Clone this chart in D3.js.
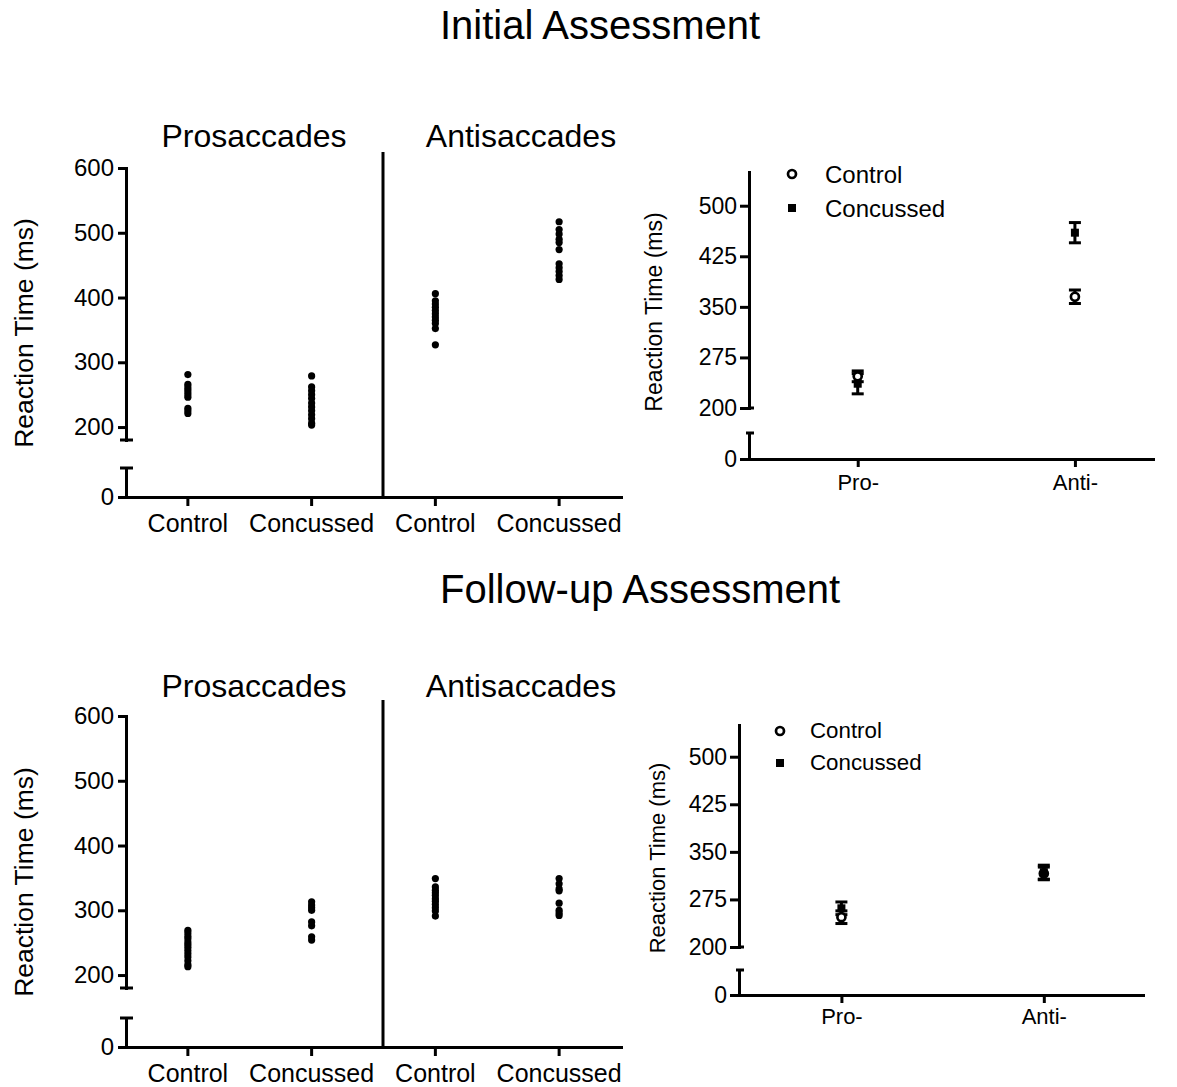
<!DOCTYPE html>
<html><head><meta charset="utf-8">
<script src="https://cdn.jsdelivr.net/npm/d3@7"></script>
<style>
body{margin:0;background:#fff}
svg text{font-family:"Liberation Sans",Arial,Helvetica,sans-serif;fill:#000}
</style>
</head><body>
<svg id="c" width="1177" height="1087"></svg>
<script>
// ---------------- DATA ----------------
const titles = ["Initial Assessment", "Follow-up Assessment"];
const groups = ["Prosaccades", "Antisaccades"];
const categories = ["Control", "Concussed", "Control", "Concussed"];
const scatterTicks = [0, 200, 300, 400, 500, 600];
const summaryTicks = [0, 200, 275, 350, 425, 500];
const summaryCats = ["Pro-", "Anti-"];
const legendLabels = ["Control", "Concussed"];
const yLabel = "Reaction Time (ms)";

// Initial assessment, individual reaction times (ms)
const initProControl    = [281, 266, 262, 258, 254, 250, 246, 229, 225, 221];
const initProConcussed  = [279, 262, 256, 250, 244, 237, 231, 225, 219, 213, 206, 203];
const initAntiControl   = [406, 395, 390, 385, 380, 375, 370, 365, 360, 352, 327];
const initAntiConcussed = [517, 505, 498, 490, 485, 474, 452, 446, 440, 434, 428];

// Follow-up assessment, individual reaction times (ms)
const followProControl    = [269, 265, 260, 256, 251, 247, 243, 238, 233, 228, 222, 216, 213];
const followProConcussed  = [313, 308, 304, 300, 282, 276, 259, 254];
const followAntiControl   = [349, 336, 331, 327, 323, 318, 314, 309, 304, 299, 291];
const followAntiConcussed = [349, 341, 333, 330, 311, 300, 296, 292];

// Summary (mean ± SEM) for Pro-, Anti-
const initControlMean    = [247, 365];
const initControlErr     = [8, 10];
const initConcussedMean  = [236, 460];
const initConcussedErr   = [15, 15];
const followControlMean  = [247, 316];
const followControlErr   = [10, 10];
const followConcussedMean= [261, 318];
const followConcussedErr = [10, 11];

// ---------------- DRAW ----------------
const svg = d3.select("#c");
const SW = 3;

function styleAxis(g){
  g.selectAll("path.domain").attr("stroke","#000").attr("stroke-width",SW).attr("stroke-linecap","square");
  g.selectAll(".tick line").attr("stroke","#000").attr("stroke-width",SW);
  g.selectAll(".tick text").attr("fill","#000").style("font-family",'"Liberation Sans",Arial,sans-serif');
}

function scatterPanel(cfg){
  const {xL, xR, yTop, yBrk, yLowTop, y0, sepX, sepTop, titleY, titleX, labelCY, data} = cfg;
  const yU = d3.scaleLinear().domain([180, 600]).range([yBrk, yTop]);
  const yL = d3.scaleLinear().domain([0, 45]).range([y0, yLowTop]);
  const x = d3.scaleBand().domain(d3.range(categories.length)).range([xL, xR]);

  groups.forEach((t, i) => {
    svg.append("text").attr("x", titleX[i]).attr("y", titleY).attr("text-anchor","middle")
      .style("font-size","32px").text(t);
  });

  const gU = svg.append("g").attr("transform",`translate(${xL},0)`)
    .call(d3.axisLeft(yU).tickValues(scatterTicks.filter(v=>v>0)).tickSize(8).tickSizeOuter(0).tickPadding(4));
  gU.selectAll(".tick text").style("font-size","24px");
  styleAxis(gU);
  const gL = svg.append("g").attr("transform",`translate(${xL},0)`)
    .call(d3.axisLeft(yL).tickValues(scatterTicks.filter(v=>v===0)).tickSize(8).tickSizeOuter(0).tickPadding(4));
  gL.selectAll(".tick text").style("font-size","24px");
  styleAxis(gL);
  [yU(180), yL(45)].forEach(yy => {
    svg.append("line").attr("x1", xL-6).attr("x2", xL+7).attr("y1", yy).attr("y2", yy)
      .attr("stroke","#000").attr("stroke-width",SW);
  });

  const gx = svg.append("g").attr("transform",`translate(0,${y0})`)
    .call(d3.axisBottom(x).tickSize(9).tickSizeOuter(0).tickPadding(8).tickFormat(i => categories[i]));
  gx.selectAll(".tick text").style("font-size","25px");
  styleAxis(gx);

  svg.append("line").attr("x1", sepX).attr("x2", sepX).attr("y1", sepTop).attr("y2", y0)
    .attr("stroke","#000").attr("stroke-width",SW);

  svg.append("text").attr("transform",`translate(33,${labelCY}) rotate(-90)`)
    .attr("text-anchor","middle").style("font-size","26.5px").text(yLabel);

  data.forEach((vals, i) => {
    svg.append("g").selectAll("circle").data(vals).join("circle")
      .attr("cx", x(i) + x.bandwidth()/2).attr("cy", d => yU(d)).attr("r", 3.6).attr("fill","#000");
  });
}

function summaryPanel(cfg){
  const {xL, xR, pad, align, yTop, yBrk, yLowTop, y0, labelX, labelCY, labelFS, tickFS, catFS, catPad,
         legX, legY1, legY2, legTextX, legFS, legDy, cMean, cErr, kMean, kErr} = cfg;
  const yU = d3.scaleLinear().domain([200, 550]).range([yBrk, yTop]);
  const yL = d3.scaleLinear().domain([0, 40]).range([y0, yLowTop]);
  const x = d3.scalePoint().domain(summaryCats).range([xL, xR]).padding(pad).align(align);

  const gU = svg.append("g").attr("transform",`translate(${xL},0)`)
    .call(d3.axisLeft(yU).tickValues(summaryTicks.filter(v=>v>0)).tickSize(9).tickSizeOuter(0).tickPadding(3));
  gU.selectAll(".tick text").style("font-size", tickFS+"px");
  styleAxis(gU);
  const gL = svg.append("g").attr("transform",`translate(${xL},0)`)
    .call(d3.axisLeft(yL).tickValues([0]).tickSize(9).tickSizeOuter(0).tickPadding(3));
  gL.selectAll(".tick text").style("font-size", tickFS+"px");
  styleAxis(gL);
  svg.append("line").attr("x1", xL).attr("x2", xL+5).attr("y1", yU(200)).attr("y2", yU(200))
    .attr("stroke","#000").attr("stroke-width",SW);
  svg.append("line").attr("x1", xL-3).attr("x2", xL+5).attr("y1", yL(40)).attr("y2", yL(40))
    .attr("stroke","#000").attr("stroke-width",SW);

  const gx = svg.append("g").attr("transform",`translate(0,${y0})`)
    .call(d3.axisBottom(x).tickSize(8).tickSizeOuter(0).tickPadding(catPad));
  gx.selectAll(".tick text").style("font-size", catFS+"px");
  styleAxis(gx);

  svg.append("text").attr("transform",`translate(${labelX},${labelCY}) rotate(-90)`)
    .attr("text-anchor","middle").style("font-size", labelFS+"px").text(yLabel);

  function errBar(xx, m, e){
    const g = svg.append("g").attr("stroke","#000").attr("stroke-width",SW);
    g.append("line").attr("x1",xx).attr("x2",xx).attr("y1",yU(m-e)).attr("y2",yU(m+e));
    [m-e, m+e].forEach(v => g.append("line").attr("x1",xx-6).attr("x2",xx+6).attr("y1",yU(v)).attr("y2",yU(v)));
  }
  summaryCats.forEach((c, i) => {
    const xx = x(c);
    errBar(xx, cMean[i], cErr[i]);
    errBar(xx, kMean[i], kErr[i]);
    svg.append("circle").attr("cx",xx).attr("cy",yU(cMean[i])).attr("r",4)
      .attr("fill","#fff").attr("stroke","#000").attr("stroke-width",2.7);
    svg.append("rect").attr("x",xx-4).attr("y",yU(kMean[i])-4).attr("width",8).attr("height",8).attr("fill","#000");
  });

  svg.append("circle").attr("cx",legX).attr("cy",legY1).attr("r",4)
    .attr("fill","#fff").attr("stroke","#000").attr("stroke-width",2.7);
  svg.append("rect").attr("x",legX-4).attr("y",legY2-4).attr("width",8).attr("height",8).attr("fill","#000");
  svg.append("text").attr("x",legTextX).attr("y",legY1+legDy).style("font-size",legFS+"px").text(legendLabels[0]);
  svg.append("text").attr("x",legTextX).attr("y",legY2+legDy).style("font-size",legFS+"px").text(legendLabels[1]);
}

svg.append("text").attr("x",440).attr("y",39).style("font-size","40px").text(titles[0]);
svg.append("text").attr("x",440).attr("y",603).style("font-size","40px").text(titles[1]);

scatterPanel({xL:126, xR:621, yTop:168, yBrk:440, yLowTop:468, y0:497, sepX:383, sepTop:152,
  titleY:147, titleX:[254, 521], labelCY:333,
  data:[initProControl, initProConcussed, initAntiControl, initAntiConcussed]});
scatterPanel({xL:126, xR:621, yTop:716, yBrk:988, yLowTop:1018, y0:1047, sepX:383, sepTop:700,
  titleY:697, titleX:[254, 521], labelCY:882,
  data:[followProControl, followProConcussed, followAntiControl, followAntiConcussed]});

summaryPanel({xL:749, xR:1153, pad:0.43, align:0.582, yTop:172, yBrk:408, yLowTop:433, y0:459,
  labelX:662, labelCY:312, labelFS:23, tickFS:23, catFS:22, catPad:7,
  legX:792, legY1:174, legY2:208, legTextX:825, legFS:24, legDy:8.5,
  cMean:initControlMean, cErr:initControlErr, kMean:initConcussedMean, kErr:initConcussedErr});
summaryPanel({xL:739, xR:1143, pad:0.498, align:0.508, yTop:725, yBrk:947, yLowTop:970, y0:995,
  labelX:665, labelCY:858, labelFS:22, tickFS:23, catFS:22, catPad:5.5,
  legX:780, legY1:731, legY2:763, legTextX:810, legFS:22.3, legDy:7,
  cMean:followControlMean, cErr:followControlErr, kMean:followConcussedMean, kErr:followConcussedErr});
</script>
</body></html>
